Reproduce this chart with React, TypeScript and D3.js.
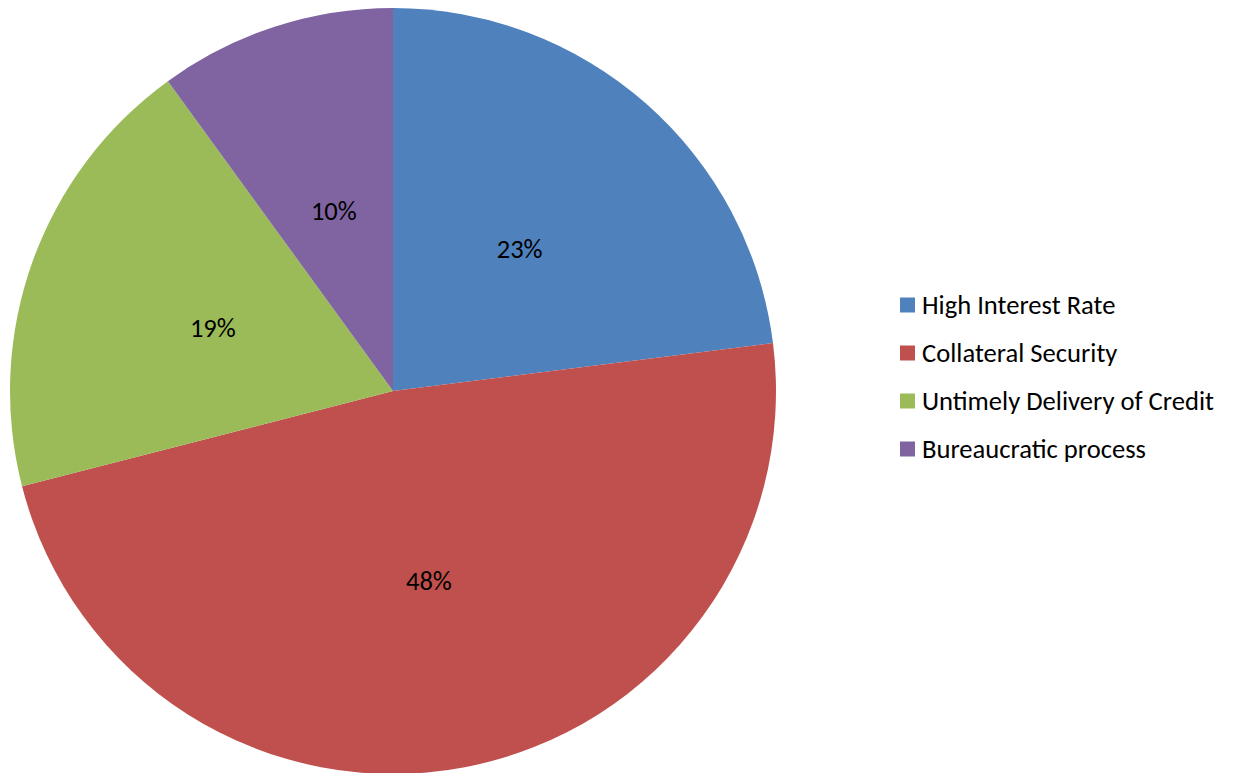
import React from "react";
import * as d3 from "d3";

const categories = ["High Interest Rate", "Collateral Security", "Untimely Delivery of Credit", "Bureaucratic process"];
const values = [23, 48, 19, 10];
const colors = ["#4F81BD", "#C0504D", "#9BBB59", "#8064A2"];

const W = 1235, H = 773;
const cx = 393, cy = 391, R = 383;

export default function App() {
  const pie = d3.pie<number>().sort(null).value(d => d)(values);
  const arc = d3.arc<d3.PieArcDatum<number>>().innerRadius(0).outerRadius(R);
  const labelArc = d3.arc<d3.PieArcDatum<number>>().innerRadius(R * 0.5).outerRadius(R * 0.5);
  const font = "Calibri, Carlito, 'Open Sans', sans-serif";
  return (
    <svg width={W} height={H} style={{ position: "absolute", left: 0, top: 0 }}>
      <rect width={W} height={H} fill="#fff" />
      <g transform={`translate(${cx},${cy})`}>
        {pie.map((p, i) => (
          <path key={i} d={arc(p) || ""} fill={colors[i]} />
        ))}
        {pie.map((p, i) => {
          const [x, y] = labelArc.centroid(p);
          return (
            <text key={i} x={x} y={y + 2} textAnchor="middle" dominantBaseline="central" fontFamily={font} fontSize={26.5} fill="#000">
              {values[i]}%
            </text>
          );
        })}
      </g>
      {categories.map((c, i) => (
        <g key={c} transform={`translate(900,${305 + i * 48})`}>
          <rect x={0} y={-7.5} width={15} height={15} fill={colors[i]} />
          <text x={22} y={0} dominantBaseline="central" fontFamily={font} fontSize={26.6} fill="#000">{c}</text>
        </g>
      ))}
    </svg>
  );
}
